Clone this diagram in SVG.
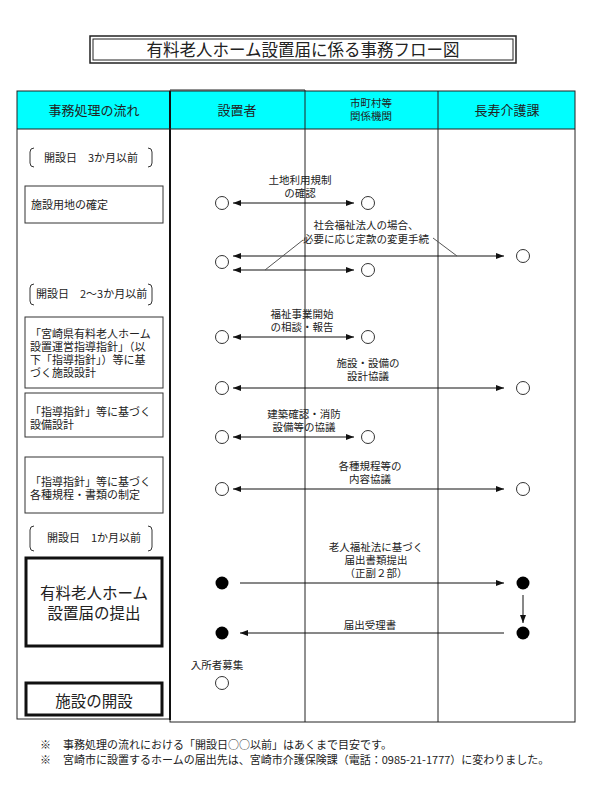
<svg xmlns="http://www.w3.org/2000/svg" width="600" height="800" viewBox="0 0 600 800">
<defs>
<marker id="ah" viewBox="0 0 8 6" refX="8" refY="3" markerWidth="8" markerHeight="6" markerUnits="userSpaceOnUse" orient="auto-start-reverse">
<path d="M0,0 L8,3 L0,6 Z" fill="#111"/>
</marker>
</defs>
<style>
text{font-family:"Noto Sans CJK JP","Noto Sans",sans-serif;fill:#222}
.h{font-size:13px;text-anchor:middle}
.hs{font-size:10.5px;text-anchor:middle}
.l{font-size:11px}
.c{font-size:10.5px;text-anchor:middle}
.big{font-size:15.5px;text-anchor:middle}
.fn{font-size:11px}
.box{fill:#fff;stroke:#333;stroke-width:1}
.tbox{fill:#fff;stroke:#111;stroke-width:3}
.br{fill:none;stroke:#333;stroke-width:1}
.o{fill:#fff;stroke:#333;stroke-width:1}
.f{fill:#000}
.ar{stroke:#111;stroke-width:1;fill:none}
.grid{stroke:#222;stroke-width:1;fill:none}
.call{stroke:#555;stroke-width:1;fill:none}
</style>
<rect width="600" height="800" fill="#fff"/>
<g id="title">
<rect x="90" y="36" width="426" height="27" fill="#fff" stroke="#222" stroke-width="1.5"/>
<rect x="93" y="39" width="420" height="21" fill="none" stroke="#222" stroke-width="1"/>
<text x="303" y="56" font-size="16.5" text-anchor="middle">有料老人ホーム設置届に係る事務フロー図</text>
</g>
<g id="table">
<rect x="17" y="91" width="558" height="38" fill="#00ffff"/>
<rect x="17" y="91" width="153" height="628" class="grid"/>
<rect x="170" y="91" width="405" height="631" class="grid"/>
<line x1="170" y1="91" x2="170" y2="720" stroke="#111" stroke-width="2"/>
<line x1="305" y1="90" x2="305" y2="722" class="grid"/>
<line x1="438" y1="91" x2="438" y2="722" class="grid"/>
<line x1="170" y1="90" x2="305" y2="90" class="grid"/>
<line x1="17" y1="129" x2="575" y2="129" class="grid"/>
<text x="94" y="115" class="h">事務処理の流れ</text>
<text x="237" y="115" class="h">設置者</text>
<text x="371" y="107" class="hs">市町村等</text>
<text x="371" y="120" class="hs">関係機関</text>
<text x="507" y="115" class="h">長寿介護課</text>
</g>
<g id="period1">
<path class="br" d="M34,148 Q30,148 30,152 L30,163 Q30,167 34,167 M148,148 Q152,148 152,152 L152,163 Q152,167 148,167"/>
<text x="44" y="162" class="l">開設日　3か月以前</text>
</g>
<g id="step1">
<rect x="25" y="186" width="138" height="37" class="box"/>
<text x="31" y="209" class="l">施設用地の確定</text>
</g>
<g id="period2">
<path class="br" d="M34,284 Q30,284 30,288 L30,301 Q30,305 34,305 M148,284 Q152,284 152,288 L152,301 Q152,305 148,305"/>
<text x="36" y="298" class="l">開設日　2～3か月以前</text>
</g>
<g id="step2">
<rect x="25" y="317" width="138" height="71" class="box"/>
<text x="30" y="338" class="l">「宮崎県有料老人ホーム</text>
<text x="30" y="351" class="l">設置運営指導指針」（以</text>
<text x="30" y="364" class="l">下「指導指針」）等に基</text>
<text x="30" y="377" class="l">づく施設設計</text>
</g>
<g id="step3">
<rect x="25" y="393" width="138" height="44" class="box"/>
<text x="30" y="416" class="l">「指導指針」等に基づく</text>
<text x="30" y="429" class="l">設備設計</text>
</g>
<g id="step4">
<rect x="25" y="457" width="138" height="56" class="box"/>
<text x="30" y="486" class="l">「指導指針」等に基づく</text>
<text x="30" y="499" class="l">各種規程・書類の制定</text>
</g>
<g id="period3">
<path class="br" d="M34,526 Q30,526 30,530 L30,547 Q30,551 34,551 M148,526 Q152,526 152,530 L152,547 Q152,551 148,551"/>
<text x="47" y="542" class="l">開設日　1か月以前</text>
</g>
<g id="step5">
<rect x="26" y="558" width="136" height="88" class="tbox"/>
<text x="94" y="599" class="big">有料老人ホーム</text>
<text x="94" y="619" class="big">設置届の提出</text>
</g>
<g id="step6">
<rect x="26" y="683" width="136" height="32" class="tbox"/>
<text x="94" y="707" class="big">施設の開設</text>
</g>
<g id="nodes">
<circle cx="222" cy="203" r="6.5" class="o"/>
<circle cx="368" cy="203" r="6.5" class="o"/>
<circle cx="222" cy="262" r="6.5" class="o"/>
<circle cx="523" cy="256" r="6.5" class="o"/>
<circle cx="368" cy="270" r="6.5" class="o"/>
<circle cx="222" cy="337" r="6.5" class="o"/>
<circle cx="368" cy="337" r="6.5" class="o"/>
<circle cx="222" cy="388" r="6.5" class="o"/>
<circle cx="523" cy="388" r="6.5" class="o"/>
<circle cx="222" cy="437" r="6.5" class="o"/>
<circle cx="368" cy="437" r="6.5" class="o"/>
<circle cx="222" cy="489" r="6.5" class="o"/>
<circle cx="523" cy="489" r="6.5" class="o"/>
<circle cx="222" cy="583" r="6.5" class="f"/>
<circle cx="523" cy="583" r="6.5" class="f"/>
<circle cx="222" cy="633" r="6.5" class="f"/>
<circle cx="523" cy="633" r="6.5" class="f"/>
<circle cx="222" cy="683" r="6.5" class="o"/>
<text x="217" y="669" class="c">入所者募集</text>
</g>
<g id="connectors">
<line x1="233" y1="203" x2="354" y2="203" class="ar" marker-start="url(#ah)" marker-end="url(#ah)"/>
<line x1="233" y1="256" x2="504" y2="256" class="ar" marker-start="url(#ah)" marker-end="url(#ah)"/>
<line x1="233" y1="270" x2="354" y2="270" class="ar" marker-start="url(#ah)" marker-end="url(#ah)"/>
<line x1="265" y1="270" x2="303" y2="240" class="call"/>
<line x1="433" y1="238" x2="457" y2="256" class="call"/>
<line x1="233" y1="337" x2="354" y2="337" class="ar" marker-start="url(#ah)" marker-end="url(#ah)"/>
<line x1="233" y1="388" x2="504" y2="388" class="ar" marker-start="url(#ah)" marker-end="url(#ah)"/>
<line x1="233" y1="437" x2="354" y2="437" class="ar" marker-start="url(#ah)" marker-end="url(#ah)"/>
<line x1="233" y1="489" x2="504" y2="489" class="ar" marker-start="url(#ah)" marker-end="url(#ah)"/>
<line x1="240" y1="583" x2="504" y2="583" class="ar" marker-end="url(#ah)"/>
<line x1="523" y1="595" x2="523" y2="623" class="ar" marker-end="url(#ah)"/>
<line x1="504" y1="633" x2="240" y2="633" class="ar" marker-end="url(#ah)"/>
<text x="300" y="184" class="c">土地利用規制</text>
<text x="300" y="197" class="c">の確認</text>
<text x="366" y="229" class="c">社会福祉法人の場合、</text>
<text x="366" y="243" class="c">必要に応じ定款の変更手続</text>
<text x="302" y="318" class="c">福祉事業開始</text>
<text x="302" y="331" class="c">の相談・報告</text>
<text x="368" y="367" class="c">施設・設備の</text>
<text x="368" y="380" class="c">設計協議</text>
<text x="304" y="418" class="c">建築確認・消防</text>
<text x="304" y="431" class="c">設備等の協議</text>
<text x="370" y="470" class="c">各種規程等の</text>
<text x="370" y="483" class="c">内容協議</text>
<text x="376" y="551" class="c">老人福祉法に基づく</text>
<text x="376" y="564" class="c">届出書類提出</text>
<text x="376" y="577" class="c">（正副２部）</text>
<text x="370" y="629" class="c">届出受理書</text>
</g>
<g id="notes">
<text x="40" y="749" class="fn">※</text>
<text x="63" y="749" class="fn">事務処理の流れにおける「開設日○○以前」はあくまで目安です。</text>
<text x="40" y="764" class="fn">※</text>
<text x="63" y="764" class="fn">宮崎市に設置するホームの届出先は、宮崎市介護保険課（電話：0985-21-1777）に変わりました。</text>
</g>
</svg>
